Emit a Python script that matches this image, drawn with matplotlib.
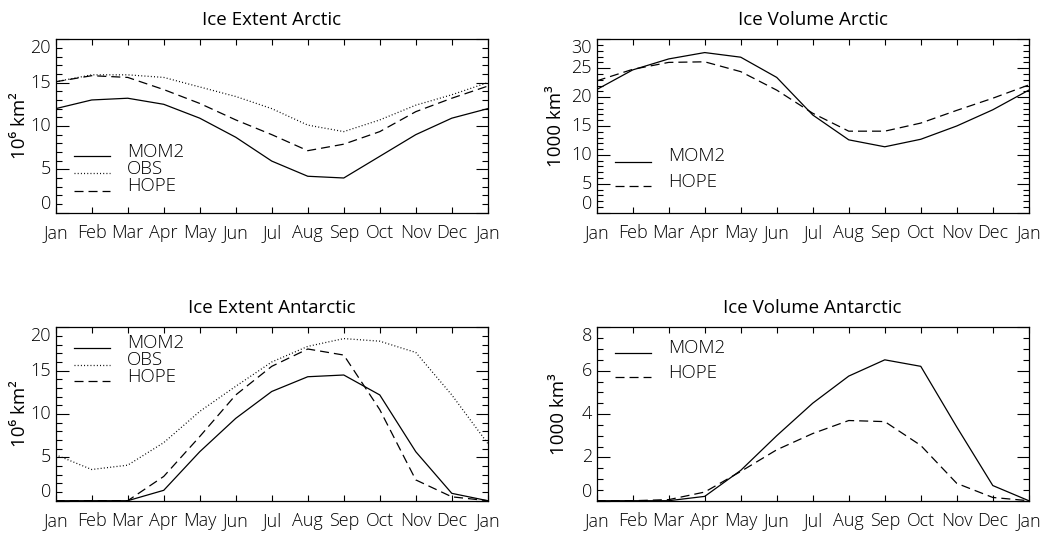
import matplotlib
matplotlib.use("Agg")
import matplotlib.pyplot as plt
import numpy as np

plt.rcParams['font.family'] = ['Open Sans', 'DejaVu Sans']
plt.rcParams['font.weight'] = 300
plt.rcParams['lines.scale_dashes'] = False

months = ["Jan", "Feb", "Mar", "Apr", "May", "Jun", "Jul",
          "Aug", "Sep", "Oct", "Nov", "Dec", "Jan"]

# Arctic sea-ice extent (10^6 km^2)
ext_arc_mom2 = [12.0, 13.0, 13.2, 12.5, 10.9, 8.7, 5.95, 4.2, 4.0, 6.5, 9.0, 10.9, 12.0]
ext_arc_obs = [15.1, 15.9, 15.9, 15.6, 14.5, 13.4, 12.0, 10.1, 9.35, 10.7, 12.4, 13.6, 15.0]
ext_arc_hope = [15.1, 15.8, 15.6, 14.2, 12.6, 10.7, 9.0, 7.15, 7.9, 9.35, 11.65, 13.2, 14.6]

# Arctic sea-ice volume (1000 km^3)
vol_arc_mom2 = [21.3, 24.7, 26.6, 27.7, 26.9, 23.4, 16.9, 12.6, 11.4, 12.7, 15.0, 17.8, 21.2]
vol_arc_hope = [22.8, 24.8, 26.0, 26.1, 24.4, 21.2, 17.2, 14.1, 14.1, 15.5, 17.7, 19.8, 22.1]

# Antarctic sea-ice extent (10^6 km^2)
ext_ant_mom2 = [0.0, 0.0, 0.0, 1.2, 5.65, 9.5, 12.6, 14.3, 14.5, 12.2, 5.65, 0.85, 0.0]
ext_ant_obs = [5.3, 3.6, 4.1, 6.7, 10.3, 13.2, 16.0, 17.8, 18.7, 18.4, 17.1, 12.2, 6.6]
ext_ant_hope = [0.0, 0.0, 0.0, 2.8, 7.4, 12.2, 15.5, 17.5, 16.8, 10.5, 2.4, 0.45, 0.0]

# Antarctic sea-ice volume (1000 km^3)
vol_ant_mom2 = [0.0, 0.0, 0.0, 0.2, 1.4, 3.0, 4.5, 5.75, 6.5, 6.2, 3.4, 0.7, 0.0]
vol_ant_hope = [0.0, 0.0, 0.05, 0.4, 1.35, 2.35, 3.1, 3.7, 3.65, 2.55, 0.8, 0.15, 0.0]

FS = 13.5
TFS = 13
LW = 0.9
SOLID = dict(color="black", lw=LW, linestyle="-")
DOT = dict(color="black", lw=LW, dashes=(0.7, 1.6))
DASH = dict(color="black", lw=LW, dashes=(6.5, 3.6))

fig = plt.figure(figsize=(10.45, 5.38), dpi=100)

xl, xr = 0.0533, 0.5710
w = 0.4135
yt, yb = 0.6047, 0.0693
h = 0.3223

ax_ea = fig.add_axes([xl, yt, w, h])
ax_va = fig.add_axes([xr, yt, w, h])
ax_en = fig.add_axes([xl, yb, w, h])
ax_vn = fig.add_axes([xr, yb, w, h])

x = np.arange(len(months))


def style(ax, title, ylabel, ymax, major, minor, ylab_x):
    ax.set_xlim(0, 12)
    ax.set_ylim(0, ymax)
    ax.set_xticks(x)
    ax.set_xticklabels(months, fontsize=TFS)
    majors = np.arange(0, ymax + major / 2, major)
    ax.set_yticks(majors)
    ax.set_yticklabels([f"{v:g}" for v in majors], fontsize=TFS)
    ax.set_yticks(np.arange(0, ymax + minor / 2, minor), minor=True)
    ax.tick_params(axis="x", which="both", direction="in", top=True,
                   length=4, width=0.8, pad=8)
    ax.tick_params(axis="y", which="major", direction="in", left=True, right=True,
                   length=9, width=0.8, pad=3.5)
    ax.tick_params(axis="y", which="minor", direction="in", left=True, right=True,
                   length=4.5, width=0.8)
    for s in ax.spines.values():
        s.set_linewidth(0.9)
    ax.set_title(title, fontsize=FS, pad=10)
    ax.set_ylabel(ylabel, fontsize=FS)
    ax.yaxis.set_label_coords(ylab_x, 0.5)
    labels = ax.get_yticklabels()
    for t, lab in zip(majors, labels):
        if abs(t) < 1e-9:
            lab.set_verticalalignment("bottom")
        elif abs(t - ymax) < 1e-9:
            lab.set_verticalalignment("top")
        else:
            lab.set_verticalalignment("center")


def legend(ax, entries, line_y, text_y):
    for (label, kw), ly, ty in zip(entries, line_y, text_y):
        ax.plot([0.042, 0.125], [ly, ly], transform=ax.transAxes,
                clip_on=False, **kw)
        ax.text(0.165, ty, label, transform=ax.transAxes, fontsize=FS,
                va="center", ha="left")


# Ice Extent Arctic
ax_ea.plot(x, ext_arc_mom2, **SOLID)
ax_ea.plot(x, ext_arc_obs, **DOT)
ax_ea.plot(x, ext_arc_hope, **DASH)
style(ax_ea, "Ice Extent Arctic", "10⁶ km²", 20, 5, 1, -0.061)
legend(ax_ea, [("MOM2", SOLID), ("OBS", DOT), ("HOPE", DASH)],
       [0.327, 0.227, 0.127], [0.352, 0.252, 0.152])

# Ice Volume Arctic
ax_va.plot(x, vol_arc_mom2, **SOLID)
ax_va.plot(x, vol_arc_hope, **DASH)
style(ax_va, "Ice Volume Arctic", "1000 km³", 30, 5, 1, -0.0735)
legend(ax_va, [("MOM2", SOLID), ("HOPE", DASH)],
       [0.294, 0.156], [0.327, 0.179])

# Ice Extent Antarctic
ax_en.plot(x, ext_ant_mom2, **SOLID)
ax_en.plot(x, ext_ant_obs, **DOT)
ax_en.plot(x, ext_ant_hope, **DASH)
style(ax_en, "Ice Extent Antarctic", "10⁶ km²", 20, 5, 1, -0.061)
legend(ax_en, [("MOM2", SOLID), ("OBS", DOT), ("HOPE", DASH)],
       [0.882, 0.783, 0.690], [0.908, 0.811, 0.715])

# Ice Volume Antarctic
ax_vn.plot(x, vol_ant_mom2, **SOLID)
ax_vn.plot(x, vol_ant_hope, **DASH)
style(ax_vn, "Ice Volume Antarctic", "1000 km³", 8, 2, 0.5, -0.066)
legend(ax_vn, [("MOM2", SOLID), ("HOPE", DASH)],
       [0.853, 0.715], [0.879, 0.738])

fig.savefig("out.png", dpi=100)
